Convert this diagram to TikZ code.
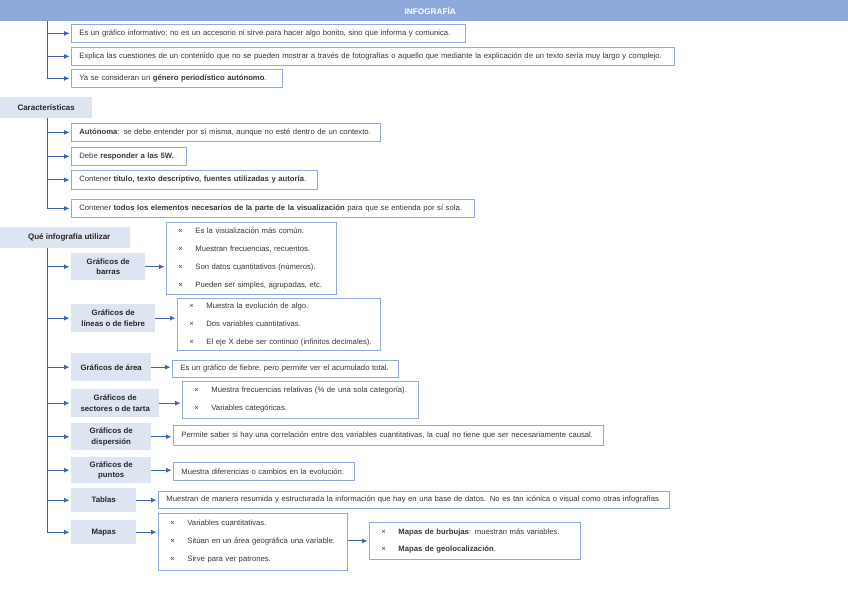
\documentclass[tikz,border=0pt]{standalone}
\usepackage{fontspec}
\setmainfont{Liberation Sans}
\usetikzlibrary{arrows.meta}
\definecolor{hdr}{HTML}{8EAADB}
\definecolor{catfill}{HTML}{DEE5F2}
\definecolor{bord}{HTML}{8FAADC}
\definecolor{conn}{HTML}{3E64AE}
\definecolor{txt}{HTML}{383838}
\newcommand\bulx{\makebox[17pt][l]{×}}
\tikzset{
  box/.style={draw=bord, line width=0.8pt, fill=white, anchor=north west,
    inner xsep=8pt, inner ysep=0pt, align=left, text=txt,
    font=\fontsize{7.7}{9.5}\selectfont},
  bul/.style={box, inner xsep=12pt, font=\fontsize{7.7}{18}\selectfont},
  cat/.style={fill=catfill, anchor=north west, inner sep=0pt, align=center,
    text=black!85, font=\bfseries\fontsize{7.8}{10.5}\selectfont},
  sec/.style={fill=catfill, anchor=north west, inner sep=0pt,
    text=black!85, font=\bfseries\fontsize{8}{10}\selectfont},
  link/.style={draw=conn, line width=0.9pt, -{Latex[length=5.5pt,width=5pt]}, shorten >=1.5pt},
}
\begin{document}
\begin{tikzpicture}[x=1pt,y=-1pt]
\useasboundingbox (0,0) rectangle (848,599);
\fill[white] (0,0) rectangle (848,599);
% header
\node[fill=hdr, anchor=north west, minimum width=848pt, minimum height=21pt, inner sep=0pt,
  text=white, font=\bfseries\fontsize{8.2}{10}\selectfont] (hdr) at (0,0) {\hspace{12pt}INFOGRAFÍA};
\coordinate (h0) at (47,21);
\node[box, text width=378pt, minimum height=18pt] (T1) at (71,24) {\mbox{Es un gráfico informativo; no es un accesorio ni sirve para hacer algo bonito, sino que informa y comunica.}};
\node[box, text width=587pt, minimum height=18pt] (T2) at (71,47) {\mbox{Explica las cuestiones de un contenido que no se pueden mostrar a través de fotografías o aquello que mediante la explicación de un texto sería muy largo y complejo.}};
\node[box, text width=195pt, minimum height=18pt] (T3) at (71,69) {\mbox{Ya se consideran un \textbf{género periodístico autónomo}.}};
\foreach \n in {T1,T2,T3} \draw[link] (h0) |- (\n.west);

% Caracteristicas
\node[sec, minimum width=92pt, minimum height=21pt] (car) at (0,97) {Características};
\coordinate (c0) at (47,118);
\node[box, text width=293pt, minimum height=18pt] (C1) at (71,123) {\mbox{\textbf{Autónoma}: se debe entender por sí misma, aunque no esté dentro de un contexto.}};
\node[box, text width=99pt, minimum height=18pt] (C2) at (71,147) {\mbox{Debe \textbf{responder a las 5W.}}};
\node[box, text width=230pt, minimum height=19pt] (C3) at (71,170) {\mbox{Contener \textbf{título, texto descriptivo, fuentes utilizadas y autoría}.}};
\node[box, text width=387pt, minimum height=18pt] (C4) at (71,199) {\mbox{Contener \textbf{todos los elementos necesarios de la parte de la visualización} para que se entienda por sí sola.}};
\foreach \n in {C1,C2,C3,C4} \draw[link] (c0) |- (\n.west);

% Que infografia
\node[sec, minimum width=130pt, minimum height=21pt] (que) at (0,227) {\hspace{8pt}Qué infografía utilizar};
\coordinate (q0) at (47,248);
\node[cat, minimum width=74pt, minimum height=27pt] (K1) at (71,253) {Gráficos de\\barras};
\node[cat, minimum width=84pt, minimum height=28pt] (K2) at (71,304) {Gráficos de\\líneas o de fiebre};
\node[cat, minimum width=80pt, minimum height=28pt] (K3) at (71,353) {Gráficos de área};
\node[cat, minimum width=88pt, minimum height=28pt] (K4) at (71,389) {Gráficos de\\sectores o de tarta};
\node[cat, minimum width=80pt, minimum height=27pt] (K5) at (71,423) {Gráficos de\\dispersión};
\node[cat, minimum width=80pt, minimum height=26pt] (K6) at (71,457) {Gráficos de\\puntos};
\node[cat, minimum width=65pt, minimum height=24pt] (K7) at (71,488) {Tablas};
\node[cat, minimum width=65pt, minimum height=24pt] (K8) at (71,520) {Mapas};
\foreach \n in {K1,K2,K3,K4,K5,K6,K7,K8} \draw[link] (q0) |- (\n.west);

\node[bul, text width=146pt, minimum height=72pt] (B1) at (166,222) {\bulx Es la visualización más común.\\\bulx Muestran frecuencias, recuentos.\\\bulx Son datos cuantitativos (números).\\\bulx Pueden ser simples, agrupadas, etc.};
\node[bul, text width=179pt, minimum height=52pt] (B2) at (177,298) {\bulx Muestra la evolución de algo.\\\bulx Dos variables cuantitativas.\\\bulx \mbox{El eje X debe ser continuo (infinitos decimales).}};
\node[box, text width=210pt, minimum height=17pt] (A3) at (172,360) {\mbox{Es un gráfico de fiebre, pero permite ver el acumulado total.}};
\node[bul, text width=212pt, minimum height=37pt] (B4) at (182,381) {\bulx \mbox{Muestra frecuencias relativas (\% de una sola categoría).}\\\bulx Variables categóricas.};
\node[box, text width=414pt, minimum height=20pt] (D5) at (173,425) {\mbox{Permite saber si hay una correlación entre dos variables cuantitativas, la cual no tiene que ser necesariamente causal.}};
\node[box, text width=165pt, minimum height=18pt] (P6) at (173,462) {\mbox{Muestra diferencias o cambios en la evolución.}};
\node[box, text width=495pt, minimum height=17pt] (T7) at (158,491) {\mbox{Muestran de manera resumida y estructurada la información que hay en una base de datos. No es tan icónica o visual como otras infografías}};
\node[bul, text width=165pt, minimum height=57pt] (B8) at (158,513) {\bulx Variables cuantitativas.\\\bulx \mbox{Sitúan en un área geográfica una variable.}\\\bulx Sirve para ver patrones.};
\node[bul, text width=187pt, minimum height=37pt, font=\fontsize{7.7}{17}\selectfont] (B9) at (369,522) {\bulx \mbox{\textbf{Mapas de burbujas}: muestran más variables.}\\\bulx \textbf{Mapas de geolocalización}.};

\draw[link] (K1.east) -- (K1.east -| B1.west);
\draw[link] (K2.east) -- (K2.east -| B2.west);
\draw[link] (K3.east) -- (K3.east -| A3.west);
\draw[link] (K4.east) -- (K4.east -| B4.west);
\draw[link] (K5.east) -- (K5.east -| D5.west);
\draw[link] (K6.east) -- (K6.east -| P6.west);
\draw[link] (K7.east) -- (K7.east -| T7.west);
\draw[link] (K8.east) -- (K8.east -| B8.west);
\draw[link] ([yshift=1pt]B8.east) -- ([yshift=1pt]B8.east -| B9.west);
\end{tikzpicture}
\end{document}
